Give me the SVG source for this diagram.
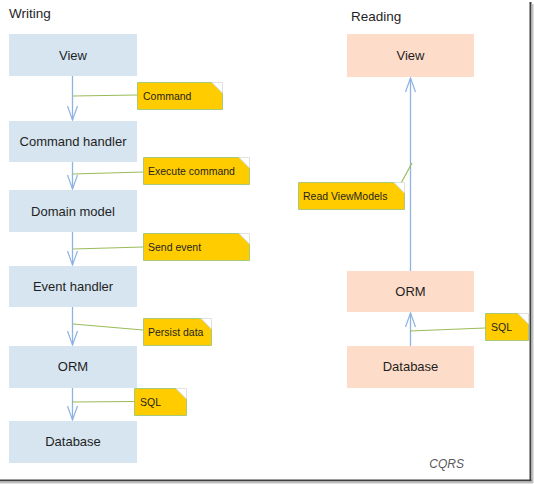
<svg xmlns="http://www.w3.org/2000/svg" width="534" height="484" viewBox="0 0 534 484">
<defs>
<marker id="ah" markerUnits="userSpaceOnUse" markerWidth="20" markerHeight="14" refX="15" refY="7" orient="auto" viewBox="0 0 20 14">
<path d="M1,2 L15,7 L1,12" fill="none" stroke="#8DB3E2" stroke-width="1.2"/>
</marker>
</defs>
<style>
.bw{fill:#D6E5EF}
.bp{fill:#FDDCC9}
.bt{font-family:"Liberation Sans",Arial,sans-serif;font-size:13px;fill:#1F1F1F;text-anchor:middle}
.ttl{font-family:"Liberation Sans",Arial,sans-serif;font-size:13.5px;fill:#1F1F1F}
.note{fill:#FFCC00;stroke:#A9C97A;stroke-width:1}
.fold{fill:#FFFFFF;stroke:#D9D9D9;stroke-width:0.8}
.nt{font-family:"Liberation Sans",Arial,sans-serif;font-size:10.5px;fill:#1F1F1F}
.arr{stroke:#8DB3E2;stroke-width:1.3;fill:none;marker-end:url(#ah)}
.gl{stroke:#9BBB59;stroke-width:1.2;fill:none}
</style>
<rect x="0" y="0" width="534" height="484" fill="#FFFFFF"/>
<g id="frame">
<line x1="0" y1="480.5" x2="532" y2="480.5" stroke="#3F3F3F" stroke-width="2"/>
<line x1="530.5" y1="2" x2="530.5" y2="481" stroke="#3F3F3F" stroke-width="2"/>
<line x1="0" y1="482.5" x2="533" y2="482.5" stroke="#BFBFBF" stroke-width="2"/>
<line x1="532.5" y1="4" x2="532.5" y2="483" stroke="#BFBFBF" stroke-width="2"/>
</g>
<text class="ttl" x="9" y="18">Writing</text>
<text class="ttl" x="351" y="21">Reading</text>
<text x="464" y="468" text-anchor="end" font-family="Liberation Sans, Arial, sans-serif" font-size="12" font-style="italic" fill="#595959">CQRS</text>

<g id="connectors">
<line class="arr" x1="72.5" y1="76" x2="72.5" y2="120"/>
<line class="arr" x1="72.5" y1="162" x2="72.5" y2="189"/>
<line class="arr" x1="72.5" y1="232" x2="72.5" y2="265"/>
<line class="arr" x1="72.5" y1="307" x2="72.5" y2="345"/>
<line class="arr" x1="72.5" y1="388" x2="72.5" y2="420"/>
<line class="arr" x1="410.5" y1="271" x2="410.5" y2="78"/>
<line class="arr" x1="410.5" y1="346" x2="410.5" y2="313"/>
<line class="gl" x1="73" y1="96" x2="137" y2="95"/>
<line class="gl" x1="73" y1="174" x2="143" y2="172"/>
<line class="gl" x1="73" y1="249" x2="143" y2="247"/>
<line class="gl" x1="73" y1="324" x2="143" y2="330"/>
<line class="gl" x1="72" y1="402" x2="134" y2="401.5"/>
<line class="gl" x1="412" y1="163" x2="400" y2="185"/>
<line class="gl" x1="410" y1="331" x2="485" y2="328"/>
</g>

<g id="w-view"><rect class="bw" x="9" y="34" width="128" height="42"/><text class="bt" x="73" y="60">View</text></g>
<g id="w-cmdhandler"><rect class="bw" x="9" y="121" width="128" height="41"/><text class="bt" x="73" y="146">Command handler</text></g>
<g id="w-domain"><rect class="bw" x="9" y="190" width="128" height="42"/><text class="bt" x="73" y="216">Domain model</text></g>
<g id="w-eventhandler"><rect class="bw" x="9" y="266" width="128" height="41"/><text class="bt" x="73" y="291">Event handler</text></g>
<g id="w-orm"><rect class="bw" x="9" y="346" width="128" height="42"/><text class="bt" x="73" y="371">ORM</text></g>
<g id="w-database"><rect class="bw" x="9" y="421" width="128" height="42"/><text class="bt" x="73" y="446">Database</text></g>

<g id="r-view"><rect class="bp" x="347" y="34" width="127" height="43"/><text class="bt" x="410.5" y="60">View</text></g>
<g id="r-orm"><rect class="bp" x="347" y="271" width="127" height="41"/><text class="bt" x="410.5" y="296">ORM</text></g>
<g id="r-database"><rect class="bp" x="347" y="346" width="127" height="42"/><text class="bt" x="410.5" y="371">Database</text></g>

<g id="n-command"><path class="note" d="M137.5,82.5 H212 L222.5,93 V109.5 H137.5 Z"/><path class="fold" d="M212,82.5 L222.5,82.5 L222.5,93 Z"/><text class="nt" x="143" y="99.5">Command</text></g>
<g id="n-execute"><path class="note" d="M143.5,157.5 H239 L249.5,168 V184.5 H143.5 Z"/><path class="fold" d="M239,157.5 L249.5,157.5 L249.5,168 Z"/><text class="nt" x="148" y="174.5">Execute command</text></g>
<g id="n-send"><path class="note" d="M143.5,233.5 H239 L249.5,244 V260.5 H143.5 Z"/><path class="fold" d="M239,233.5 L249.5,233.5 L249.5,244 Z"/><text class="nt" x="148" y="250.5">Send event</text></g>
<g id="n-persist"><path class="note" d="M143.5,318.5 H201 L211.5,329 V345.5 H143.5 Z"/><path class="fold" d="M201,318.5 L211.5,318.5 L211.5,329 Z"/><text class="nt" x="148" y="335.5">Persist data</text></g>
<g id="n-sql-w"><path class="note" d="M134.5,388.5 H176 L186.5,399 V415.5 H134.5 Z"/><path class="fold" d="M176,388.5 L186.5,388.5 L186.5,399 Z"/><text class="nt" x="140" y="405.5">SQL</text></g>
<g id="n-readvm"><path class="note" d="M298.5,182.5 H394 L404.5,193 V209.5 H298.5 Z"/><path class="fold" d="M394,182.5 L404.5,182.5 L404.5,193 Z"/><text class="nt" x="303" y="199.5">Read ViewModels</text></g>
<g id="n-sql-r"><path class="note" d="M485.5,313.5 H518 L528.5,324 V340.5 H485.5 Z"/><path class="fold" d="M518,313.5 L528.5,313.5 L528.5,324 Z"/><text class="nt" x="491" y="330.5">SQL</text></g>
</svg>
